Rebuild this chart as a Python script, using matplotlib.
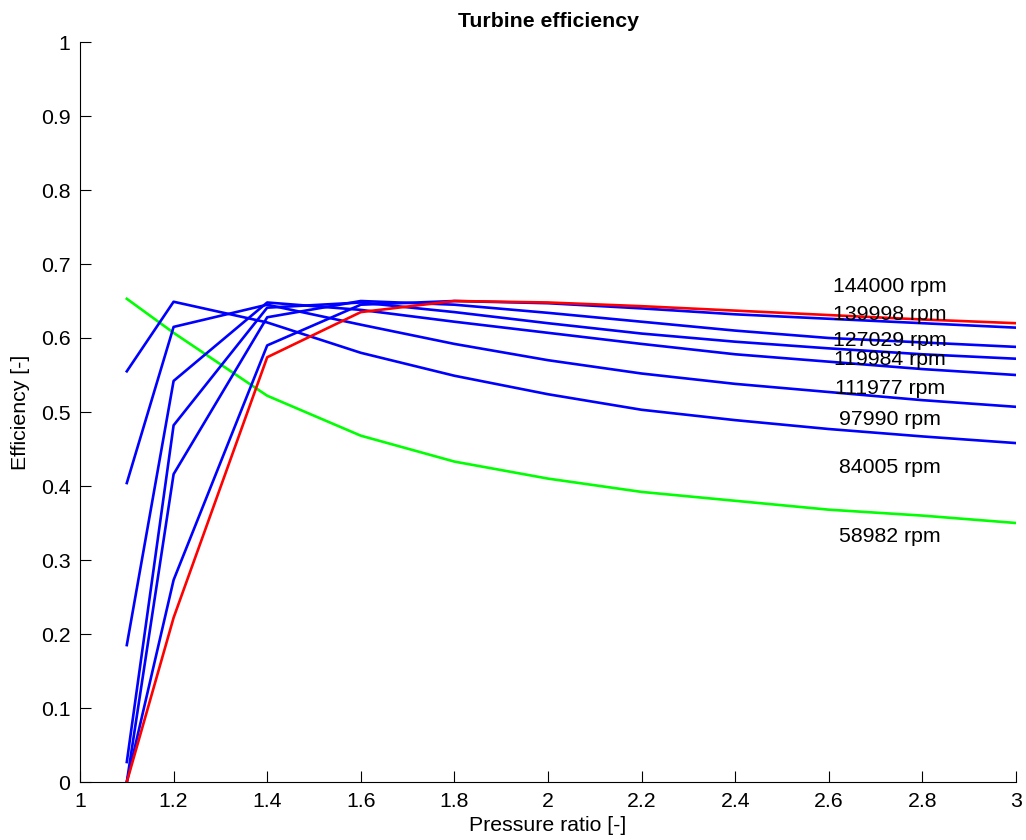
import numpy as np
import matplotlib
matplotlib.use('Agg')
import matplotlib.pyplot as plt

plt.rcParams['font.family'] = ['Liberation Sans', 'DejaVu Sans']

# pressure ratio grid
pr = [1.1, 1.2, 1.4, 1.6, 1.8, 2.0, 2.2, 2.4, 2.6, 2.8, 3.0]

# efficiency per speed line
eff_58982 = [0.653, 0.607, 0.522, 0.468, 0.433, 0.410, 0.392, 0.380, 0.368, 0.360, 0.350]
eff_84005 = [0.555, 0.649, 0.621, 0.580, 0.549, 0.524, 0.503, 0.489, 0.477, 0.467, 0.458]
eff_97990 = [0.404, 0.615, 0.645, 0.618, 0.592, 0.570, 0.552, 0.538, 0.527, 0.516, 0.507]
eff_111977 = [0.185, 0.542, 0.648, 0.638, 0.622, 0.607, 0.592, 0.578, 0.568, 0.558, 0.550]
eff_119984 = [0.027, 0.482, 0.641, 0.648, 0.635, 0.620, 0.606, 0.595, 0.586, 0.578, 0.572]
eff_127029 = [0.000, 0.416, 0.628, 0.650, 0.645, 0.634, 0.622, 0.610, 0.600, 0.594, 0.588]
eff_139998 = [0.000, 0.273, 0.590, 0.645, 0.650, 0.647, 0.640, 0.632, 0.626, 0.620, 0.614]
eff_144000 = [0.000, 0.222, 0.574, 0.635, 0.650, 0.648, 0.643, 0.637, 0.631, 0.625, 0.620]

speeds = [58982, 84005, 97990, 111977, 119984, 127029, 139998, 144000]
curves = [eff_58982, eff_84005, eff_97990, eff_111977, eff_119984,
          eff_127029, eff_139998, eff_144000]
colors = ['#00ff00', 'b', 'b', 'b', 'b', 'b', 'b', 'r']

# label positions
label_x = 2.731
label_y = [0.334, 0.428, 0.493, 0.534, 0.573, 0.600, 0.635, 0.672]

fig = plt.figure(figsize=(10.26, 8.4), dpi=100)
ax = fig.add_axes([80 / 1026, 58 / 840, 936 / 1026, 740 / 840])

for eff, c in zip(curves, colors):
    ax.plot(pr, eff, color=c, linewidth=1.9)

for s, y in zip(speeds, label_y):
    ax.text(label_x, y, '%d rpm' % s, ha='center', va='center_baseline', fontsize=15.3)

ax.set_xlim(1, 3)
ax.set_ylim(0, 1)
ax.set_xticks(np.arange(1, 3.01, 0.2))
ax.set_xticklabels(['1', '1.2', '1.4', '1.6', '1.8', '2', '2.2', '2.4', '2.6', '2.8', '3'])
ax.set_yticks(np.arange(0, 1.01, 0.1))
ax.set_yticklabels(['0', '0.1', '0.2', '0.3', '0.4', '0.5', '0.6', '0.7', '0.8', '0.9', '1'])
ax.tick_params(direction='in', length=8, labelsize=15.3, pad=7)
ax.spines['top'].set_visible(False)
ax.spines['right'].set_visible(False)

ax.set_xlabel('Pressure ratio [-]', fontsize=15.3, labelpad=4)
ax.set_ylabel('Efficiency [-]', fontsize=15.3, labelpad=8)
ax.set_title('Turbine efficiency', fontsize=15.3, fontweight='bold', pad=11)

plt.savefig('out.png', dpi=100)
